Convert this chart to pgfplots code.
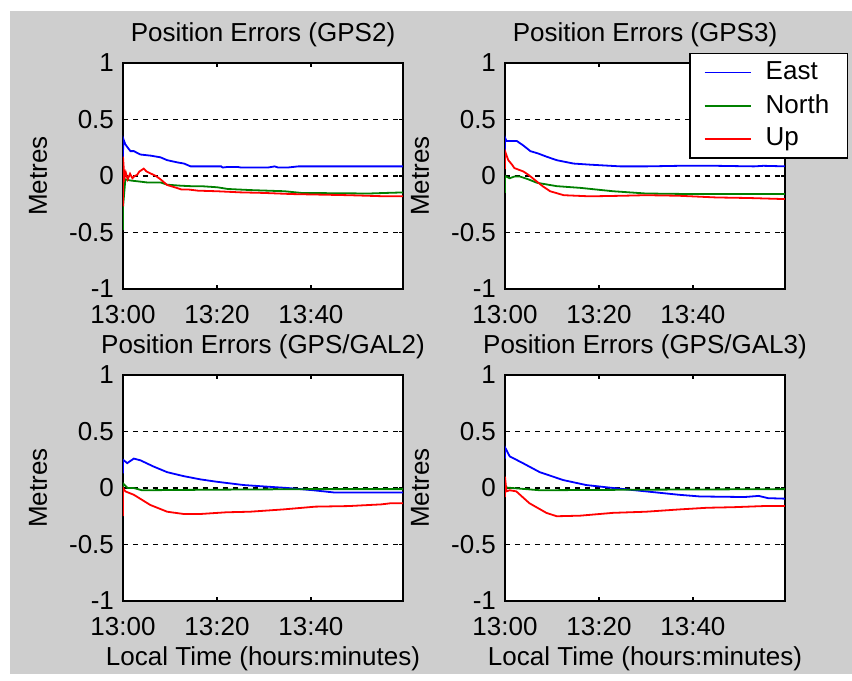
\documentclass[border=0pt]{standalone}
\usepackage{fontspec}
\setmainfont{Liberation Sans}
\usepackage{pgfplots}
\pgfplotsset{compat=1.18}
\definecolor{bg}{RGB}{206,206,206}
\definecolor{mblue}{RGB}{0,0,255}
\definecolor{mgreen}{RGB}{0,128,0}
\definecolor{mred}{RGB}{255,0,0}
\pgfplotsset{
 panel/.style={
  scale only axis, width=140pt, height=113pt,
  xmin=0, xmax=59.6, ymin=-1, ymax=1,
  xtick={0,20,40}, xticklabels={13:00,13:20,13:40},
  ytick={-1,-0.5,0,0.5,1}, yticklabels={-1,-0.5,0,0.5,1},
  tick align=inside, major tick length=2pt,
  ymajorgrids, grid style={black, line width=0.8pt, dash pattern=on 2.5pt off 2.5pt},
  axis background/.style={fill=white},
  axis line style={black, line width=1pt},
  tick style={black, line width=0.7pt},
  xticklabel style={yshift=-3.5pt},
  title style={at={(axis description cs:0.5,1)}, anchor=base, yshift=4.5pt},
  every axis y label/.style={at={(axis description cs:-0.3036,0.5)}, rotate=90, anchor=center},
  every axis x label/.style={at={(axis description cs:0.5,0)}, anchor=base, yshift=-32.5pt},
  ylabel={Metres},
  every axis plot/.append style={line width=0.9pt},
 }
}
\begin{document}
\fontsize{13}{15}\selectfont
\begin{tikzpicture}
\path (0,0) rectangle (426pt,337pt);
\fill[bg] (5pt,0) rectangle (426pt,331.5pt);

% Panel 1: GPS2
\begin{axis}[panel, at={(61.5pt,192.5pt)}, anchor=south west, title={Position Errors (GPS2)}]
\addplot[mblue] coordinates {(0,0.16)(0.05,0.33)(0.5,0.28)(1.2,0.24)(1.6,0.22)(2.3,0.22)(3.7,0.19)(5.9,0.18)(8.0,0.165)(9.4,0.14)(11.6,0.12)(13,0.11)(14.4,0.085)(20.9,0.085)(21.2,0.075)(22.3,0.08)(24.4,0.08)(25.1,0.075)(30.9,0.075)(32.3,0.085)(33,0.075)(35.1,0.075)(37.3,0.085)(60,0.085)};
\addplot[mgreen] coordinates {(0,-0.48)(0,-0.28)(0.5,-0.03)(1.6,-0.04)(3.7,-0.05)(5.1,-0.057)(8,-0.057)(9.4,-0.077)(12.3,-0.086)(14.4,-0.09)(16.6,-0.09)(20.1,-0.1)(22.3,-0.115)(27.3,-0.125)(34.4,-0.135)(38,-0.15)(52.3,-0.155)(55.9,-0.15)(60,-0.145)};
\addplot[mred] coordinates {(0,-0.27)(0,0.17)(0.3,-0.02)(0.6,0.03)(1,-0.03)(1.5,0.02)(2,-0.02)(2.5,0.0)(3,0.01)(3.5,0.04)(4.4,0.065)(5,0.04)(6,0.02)(7,0.0)(8,-0.03)(9.4,-0.08)(11,-0.1)(12.5,-0.12)(14,-0.12)(16,-0.13)(20,-0.135)(25,-0.145)(30,-0.15)(36,-0.16)(42,-0.165)(48,-0.17)(52,-0.175)(56,-0.18)(60,-0.18)};
\end{axis}

% Panel 2: GPS3
\begin{axis}[panel, at={(252.5pt,192.5pt)}, anchor=south west, title={Position Errors (GPS3)},
  legend style={at={(axis description cs:1.225,1.045)}, anchor=north east, draw=black, line width=0.7pt, fill=white, inner xsep=7pt, inner ysep=2pt, row sep=1.5pt},
  legend cell align=left,
  legend image code/.code={\draw[#1,line width=0.9pt] (0pt,0pt) -- (23pt,0pt); \path[draw=none,fill=none] (28.5pt,0pt);}]
\addplot[mblue] coordinates {(0,0.15)(0,0.34)(0.3,0.31)(2.5,0.31)(3.9,0.27)(5.4,0.22)(7,0.2)(8.9,0.17)(11,0.14)(14.6,0.11)(18.2,0.1)(24.6,0.085)(30,0.085)(37,0.09)(45,0.09)(53,0.085)(55,0.09)(60,0.085)};
\addlegendentry{East}
\addplot[mgreen] coordinates {(0,-0.15)(0,0.0)(1,-0.02)(2,-0.005)(3.2,-0.005)(5,-0.03)(6.8,-0.06)(11,-0.09)(16,-0.105)(23,-0.135)(30,-0.155)(40,-0.16)(60,-0.16)};
\addlegendentry{North\hspace{2pt}}
\addplot[mred] coordinates {(0,0.06)(0,0.22)(0.7,0.14)(1.5,0.1)(2,0.07)(3.9,0.04)(5,0.01)(6.8,-0.05)(8,-0.09)(9.6,-0.135)(12.5,-0.17)(18,-0.18)(25,-0.175)(30,-0.17)(37,-0.175)(45,-0.19)(52,-0.195)(60,-0.205)};
\addlegendentry{Up}
\end{axis}

% Panel 3: GPS/GAL2
\begin{axis}[panel, at={(61.5pt,36.5pt)}, anchor=south west, title={Position Errors (GPS/GAL2)}, xlabel={Local Time (hours:minutes)}]
\addplot[mblue] coordinates {(0,0.13)(0,0.25)(0.9,0.22)(2.3,0.26)(3.7,0.245)(6.5,0.19)(9.4,0.14)(12.9,0.105)(16.5,0.076)(20,0.055)(25.7,0.026)(30.6,0.012)(35,0.0)(40.5,-0.02)(45,-0.04)(60,-0.04)};
\addplot[mgreen] coordinates {(0,-0.02)(0,0.04)(1,0.0)(2.3,0.0)(4,-0.02)(20,-0.015)(40,-0.01)(60,-0.01)};
\addplot[mred] coordinates {(0,-0.25)(0,0.0)(0.5,-0.03)(2.3,-0.06)(5.8,-0.15)(9.4,-0.21)(12.9,-0.23)(16.5,-0.23)(22,-0.215)(27,-0.21)(34,-0.19)(41,-0.165)(48,-0.16)(55,-0.145)(57,-0.135)(60,-0.135)};
\end{axis}

% Panel 4: GPS/GAL3
\begin{axis}[panel, at={(252.5pt,36.5pt)}, anchor=south west, title={Position Errors (GPS/GAL3)}, xlabel={Local Time (hours:minutes)}]
\addplot[mblue] coordinates {(0,0.26)(0,0.36)(1,0.28)(3.8,0.22)(7.4,0.14)(12.4,0.07)(17.3,0.026)(23,0.0)(30,-0.03)(37,-0.06)(41.5,-0.075)(51,-0.08)(54,-0.07)(56,-0.09)(60,-0.095)};
\addplot[mgreen] coordinates {(0,0.005)(7.4,-0.02)(30,-0.015)(60,-0.01)};
\addplot[mred] coordinates {(0,-0.08)(0,0.1)(0.3,-0.03)(1,-0.02)(2.4,-0.03)(5.2,-0.135)(8.8,-0.22)(11,-0.25)(16,-0.245)(23,-0.22)(30,-0.21)(37,-0.19)(43,-0.175)(48.6,-0.17)(55,-0.16)(60,-0.16)};
\end{axis}
\end{tikzpicture}
\end{document}
